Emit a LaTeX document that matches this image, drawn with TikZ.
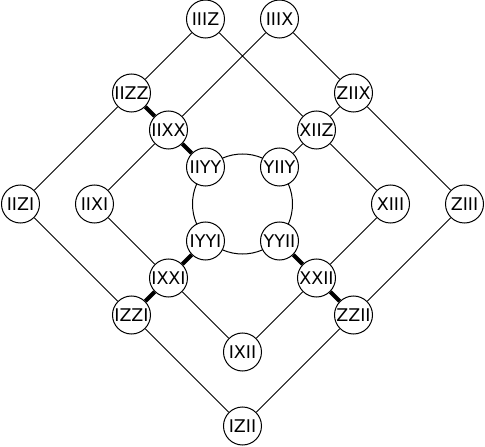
\documentclass[tikz,border=0pt]{standalone}
\usepackage{fontspec}
\setsansfont{DejaVu Sans}
\usepackage{tikz}

\begin{document}
\begin{tikzpicture}[x=37pt,y=37pt,line width=1pt,
    sommet/.style={circle,draw,fill=white,minimum size=38pt,inner sep=0pt,
                   font=\sffamily\fontsize{17.5}{17.5}\selectfont},
    fort/.style={line width=4.2pt}]
  \useasboundingbox (-242.5pt,-243pt) rectangle (242.5pt,204pt);
  % cercle central
  \draw (0,0) circle (50pt);
  % sommets du haut
  \node[sommet] (IIIZ) at (-1,5) {IIIZ};
  \node[sommet] (IIIX) at (1,5) {IIIX};
  \node[sommet] (IIZZ) at (-3,3) {IIZZ};
  \node[sommet] (ZIIX) at (3,3) {ZIIX};
  \node[sommet] (IIXX) at (-2,2) {IIXX};
  \node[sommet] (XIIZ) at (2,2) {XIIZ};
  \node[sommet] (IIYY) at (-1,1) {IIYY};
  \node[sommet] (YIIY) at (1,1) {YIIY};
  % rangee du milieu
  \node[sommet] (IIZI) at (-6,0) {IIZI};
  \node[sommet] (IIXI) at (-4,0) {IIXI};
  \node[sommet] (XIII) at (4,0) {XIII};
  \node[sommet] (ZIII) at (6,0) {ZIII};
  % sommets du bas
  \node[sommet] (IYYI) at (-1,-1) {IYYI};
  \node[sommet] (YYII) at (1,-1) {YYII};
  \node[sommet] (IXXI) at (-2,-2) {IXXI};
  \node[sommet] (XXII) at (2,-2) {XXII};
  \node[sommet] (IZZI) at (-3,-3) {IZZI};
  \node[sommet] (ZZII) at (3,-3) {ZZII};
  \node[sommet] (IXII) at (0,-4) {IXII};
  \node[sommet] (IZII) at (0,-6) {IZII};
  % aretes fines
  \draw (IIIZ) -- (IIZZ) -- (IIZI) -- (IZZI) -- (IZII) -- (ZZII) -- (ZIII) -- (ZIIX) -- (IIIX);
  \draw (IIIX) -- (IIXX) -- (IIXI) -- (IXXI) -- (IXII) -- (XXII) -- (XIII) -- (XIIZ) -- (IIIZ);
  \draw (ZIIX) -- (XIIZ) -- (YIIY);
  % aretes epaisses
  \draw[fort] (IIZZ) -- (IIXX) -- (IIYY);
  \draw[fort] (IZZI) -- (IXXI) -- (IYYI);
  \draw[fort] (ZZII) -- (XXII) -- (YYII);
\end{tikzpicture}
\end{document}
